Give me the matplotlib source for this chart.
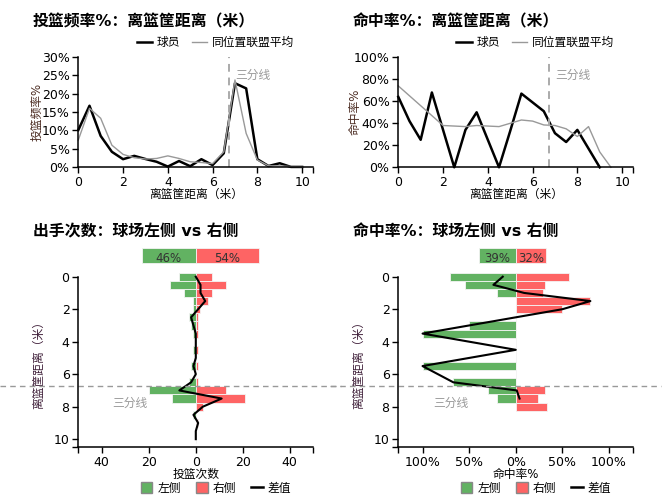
import numpy as np
import matplotlib
matplotlib.use('Agg')
import matplotlib.pyplot as plt
from matplotlib.lines import Line2D
from matplotlib.patches import Patch

plt.rcParams['font.family'] = ['DejaVu Sans', 'Noto Sans CJK SC']

# ---- data ----
nan = np.nan
dist = np.arange(0, 10.01, 0.5)

freq_player = [10.1, 16.7, 8.5, 4.2, 2.2, 3.1, 2.25, 1.5, 0.2, 1.7, 0.3, 2.2, 0.6, 3.8,
               22.8, 21.4, 2.2, 0.35, 1.1, 0.1, 0.1]
freq_league = [7.4, 16.0, 13.3, 6.0, 3.5, 2.6, 2.25, 2.4, 3.1, 2.4, 1.5, 1.3, 1.0, 4.2,
               23.7, 9.2, 2.0, 0.4, 0.4, 0.2, 0.1]

fg_player = [64, 42, 25, 68, 34, 0, 34, 50, 25, 0, 33, 67, 59, 51, 31, 23, 34, 17, 0, nan, nan]
fg_league = [74, 65, 56, 47, 38, 37.5, 37, 38, 37.5, 37, 40, 43, 42, 38.5, 38, 35, 28, 37, 14, 0, nan]

left_cnt = [7, 11, 5, 1, 1, 3, 2, 1, 0, 1, 0, 2, 0, 3, 20, 10, 0, 1, 0, 0, 0]
right_cnt = [7, 13, 7, 5, 2, 1, 1, 1, 0, 1, 0, 1, 0, 1, 13, 21, 3, 0, 1, 0, 0]
share_cnt = [46, 54]

dist_fg = np.arange(0, 8.01, 0.5)
left_fg = [71, 55, 20, 0, 0, 0, 50, 100, nan, 0, nan, 100, nan, 67, 30, 20, nan]
right_fg = [57, 31, 29, 80, 50, 0, 0, 0, nan, 0, nan, 0, nan, 0, 31, 24, 33]
share_fg = [39, 32]

three_pt = 6.75

GREEN = '#62b262'
RED = '#fe6464'
GRAY = '#999999'
W, H = 669, 499


def rect(x0, x1, ytop, ybot):
    return [x0 / W, 1 - ybot / H, (x1 - x0) / W, (ybot - ytop) / H]


def style(ax):
    for s in ['top', 'right']:
        ax.spines[s].set_visible(False)
    for s in ['left', 'bottom']:
        ax.spines[s].set_linewidth(1.1)
    ax.tick_params(which='both', length=4.3, width=1.0, pad=2, labelsize=9, color='black')


fig = plt.figure(figsize=(6.69, 4.99), dpi=100)

# ---------- top left: shot frequency ----------
ax1 = fig.add_axes(rect(78.3, 313.3, 56.7, 167.3))
style(ax1)
ax1.plot(dist, freq_player, color='black', lw=1.8, label='球员', clip_on=False)
ax1.plot(dist, freq_league, color=GRAY, lw=1.0, label='同位置联盟平均', clip_on=False)
ax1.axvline(three_pt, color='#aaaaaa', lw=1.4, ls=(0, (4, 3)))
ax1.text(7.0, 25.0, '三分线', color=GRAY, fontsize=8.5, va='center', ha='left')
ax1.set_xlim(0, 10.5)
ax1.set_ylim(0, 30)
ax1.set_xticks([0, 2, 4, 6, 8, 10])
ax1.set_xticks([10.5], minor=True)
ax1.set_yticks(range(0, 31, 5))
ax1.set_yticklabels([f'{v}%' for v in range(0, 31, 5)])
ax1.set_xlabel('离篮筐距离（米）', fontsize=8.5)
ax1.xaxis.set_label_coords(0.5, -0.245)
ax1.xaxis.label.set_va('center')
ax1.set_ylabel('投篮频率%', fontsize=8.5, color='#4a2a20')
ax1.yaxis.set_label_coords(-0.176, 0.5)
ax1.yaxis.label.set_va('center')
ax1.legend(loc='center', bbox_to_anchor=(0.584, 1.127), ncol=2, frameon=False, fontsize=8.5,
           handlelength=1.3, handletextpad=0.4, columnspacing=1.0, borderpad=0)

# ---------- top right: FG% ----------
ax2 = fig.add_axes(rect(398.3, 633.3, 57.3, 167.3))
style(ax2)
ax2.plot(dist, fg_player, color='black', lw=1.8, label='球员', clip_on=False)
ax2.plot(dist, fg_league, color=GRAY, lw=1.0, label='同位置联盟平均', clip_on=False)
ax2.axvline(three_pt, color='#aaaaaa', lw=1.4, ls=(0, (4, 3)))
ax2.text(7.0, 84, '三分线', color=GRAY, fontsize=8.5, va='center', ha='left')
ax2.set_xlim(0, 10.5)
ax2.set_ylim(0, 100)
ax2.set_xticks([0, 2, 4, 6, 8, 10])
ax2.set_xticks([10.5], minor=True)
ax2.set_yticks(range(0, 101, 20))
ax2.set_yticklabels([f'{v}%' for v in range(0, 101, 20)])
ax2.set_xlabel('离篮筐距离（米）', fontsize=8.5)
ax2.xaxis.set_label_coords(0.5, -0.245)
ax2.xaxis.label.set_va('center')
ax2.set_ylabel('命中率%', fontsize=8.5, color='#4a2a20')
ax2.yaxis.set_label_coords(-0.185, 0.5)
ax2.yaxis.label.set_va('center')
ax2.legend(loc='center', bbox_to_anchor=(0.582, 1.133), ncol=2, frameon=False, fontsize=8.5,
           handlelength=1.3, handletextpad=0.4, columnspacing=1.0, borderpad=0)


# ---------- bottom: left vs right ----------
def side_chart(ax, y, left, right, share, share_scale, lim, ticks, ticklabels, xlabel, lbl_x, ext_left):
    style(ax)
    left = np.array(left, dtype=float)
    right = np.array(right, dtype=float)
    ax.barh(y, -np.nan_to_num(left), height=0.5, color=GREEN, edgecolor='#f4f4f4', lw=0.6, clip_on=False)
    ax.barh(y, np.nan_to_num(right), height=0.5, color=RED, edgecolor='#f4f4f4', lw=0.6, clip_on=False)
    diff = right - left
    ok = np.isfinite(diff)
    ax.plot(diff[ok], y[ok], color='black', lw=1.5, clip_on=False)
    # summary bar above the axis
    ax.barh(-1.3, -share[0] * share_scale, height=0.88, color=GREEN, edgecolor='#f4f4f4', lw=0.6, clip_on=False)
    ax.barh(-1.3, share[1] * share_scale, height=0.88, color=RED, edgecolor='#f4f4f4', lw=0.6, clip_on=False)
    ax.text(-share[0] * share_scale / 2, -1.15, f'{share[0]}%', ha='center', va='center', fontsize=8.5, color='#333333')
    ax.text(share[1] * share_scale / 2, -1.15, f'{share[1]}%', ha='center', va='center', fontsize=8.5, color='#333333')
    # three point line
    span = 2 * lim
    ax.plot([-lim - ext_left * span, lim + 0.12 * span], [three_pt, three_pt], color=GRAY, lw=1.0,
            ls=(0, (4, 3)), clip_on=False)
    ax.text(lbl_x, 7.78, '三分线', color=GRAY, fontsize=8.5, ha='center', va='center')
    ax.set_xlim(-lim, lim)
    ax.set_ylim(10.5, 0)
    ax.set_yticks([0, 2, 4, 6, 8, 10])
    ax.set_yticks([10.5], minor=True)
    ax.set_xticks(ticks)
    ax.set_xticklabels(ticklabels)
    ax.set_xticks([-lim, lim], minor=True)
    ax.set_xlabel(xlabel, fontsize=8.5)
    ax.xaxis.set_label_coords(0.5, -0.16)
    ax.xaxis.label.set_va('center')
    ax.set_ylabel('离篮筐距离（米）', fontsize=8.5, color='#40203a')
    ax.yaxis.set_label_coords(-0.167, 0.5)
    ax.yaxis.label.set_va('center')
    handles = [Patch(facecolor=GREEN, edgecolor='#888888', label='左侧'),
               Patch(facecolor=RED, edgecolor='#888888', label='右侧'),
               Line2D([], [], color='black', lw=1.8, label='差值')]
    ax.legend(handles=handles, loc='center', bbox_to_anchor=(0.586, -0.239), ncol=3, frameon=False,
              fontsize=8.5, handlelength=1.0, handleheight=1.0, handletextpad=0.4,
              columnspacing=1.3, borderpad=0)


ax3 = fig.add_axes(rect(78.3, 313.3, 276.7, 447.3))
side_chart(ax3, dist, left_cnt, right_cnt, share_cnt, 0.5, 50,
           [-40, -20, 0, 20, 40], ['40', '20', '0', '20', '40'], '投篮次数', -28, 0.333)

ax4 = fig.add_axes(rect(398.3, 633.3, 276.7, 447.3))
side_chart(ax4, dist_fg, left_fg, right_fg, share_fg, 1.0, 126,
           [-100, -50, 0, 50, 100], ['100%', '50%', '0%', '50%', '100%'], '命中率%', -70, 0.29)

# ---------- titles ----------
fig.text(33 / W, 1 - 26 / H, '投篮频率%：离篮筐距离（米）', fontsize=11.4, fontweight='bold', va='baseline')
fig.text(353 / W, 1 - 26 / H, '命中率%：离篮筐距离（米）', fontsize=11.4, fontweight='bold', va='baseline')
fig.text(33 / W, 1 - 236 / H, '出手次数：球场左侧 vs 右侧', fontsize=11.4, fontweight='bold', va='baseline')
fig.text(353 / W, 1 - 236 / H, '命中率%：球场左侧 vs 右侧', fontsize=11.4, fontweight='bold', va='baseline')

fig.savefig('out.png', dpi=100)
